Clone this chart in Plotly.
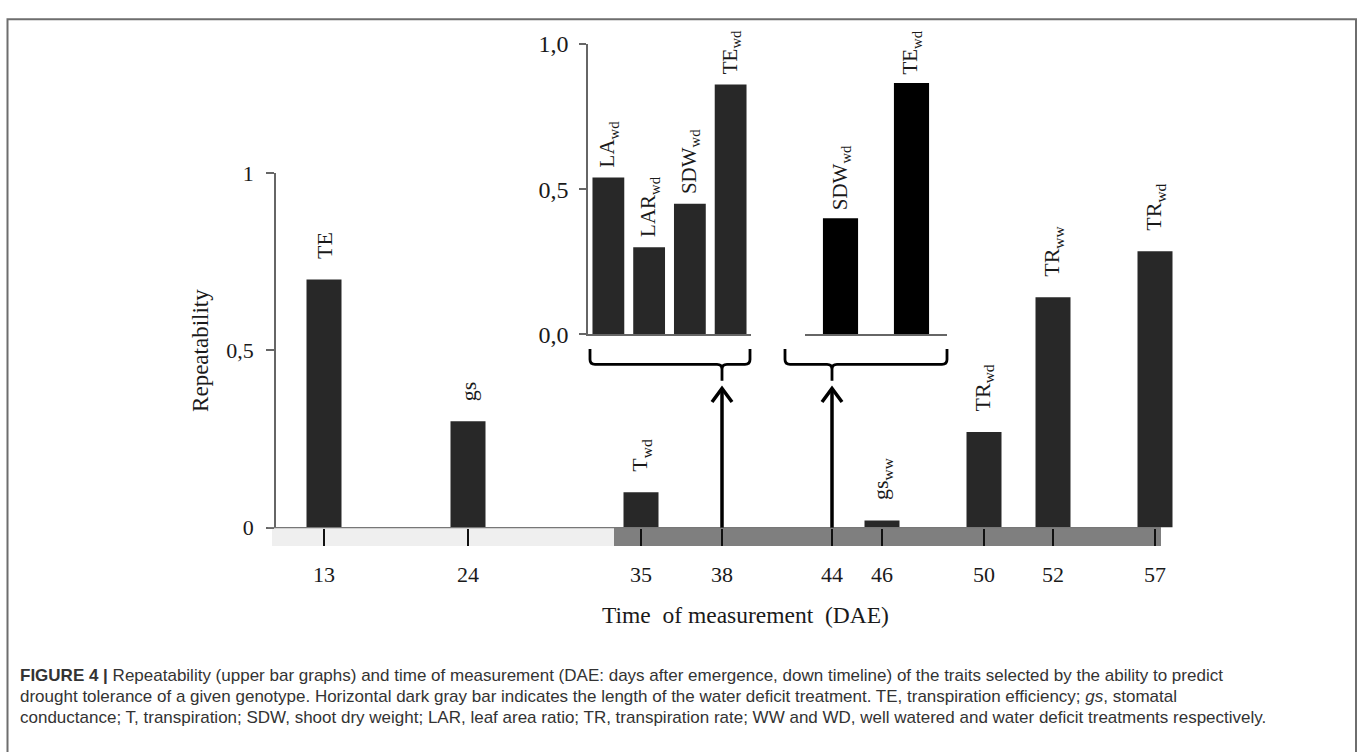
import plotly.graph_objects as go

W, H = 1360, 752

# ---------------- data ----------------
tick_dae = [13, 24, 35, 38, 44, 46, 50, 52, 57]
main_dae = [13, 24, 35, 46, 50, 52, 57]
main_vals = [0.70, 0.30, 0.10, 0.02, 0.27, 0.65, 0.78]
main_labels = ["TE", "gs", "T<sub>wd</sub>", "gs<sub>ww</sub>",
               "TR<sub>wd</sub>", "TR<sub>ww</sub>", "TR<sub>wd</sub>"]

inset1_dae = 38
inset1_traits = ["LA<sub>wd</sub>", "LAR<sub>wd</sub>", "SDW<sub>wd</sub>", "TE<sub>wd</sub>"]
inset1_vals = [0.54, 0.30, 0.45, 0.86]

inset2_dae = 44
inset2_traits = ["SDW<sub>wd</sub>", "TE<sub>wd</sub>"]
inset2_vals = [0.40, 0.865]

main_yticks = [0, 0.5, 1]
main_yticktext = ["0", "0,5", "1"]
inset_yticks = [0, 0.5, 1]
inset_yticktext = ["0,0", "0,5", "1,0"]

# ---------------- layout helpers ----------------
# schematic (non-linear) timeline position of each DAE tick
timeline_slot = [324, 468, 641, 722, 832, 882, 984, 1053, 1155]
slot = dict(zip(tick_dae, timeline_slot))


def px(x):
    return x / W


def py(y):
    return 1 - y / H


SERIF = "Liberation Serif"
SANS = "Liberation Sans"
BAR = "#282828"
AX = "#666666"
TXT = "#1a1a1a"

MAIN_X0, MAIN_X1 = 276, 1185
MAIN_YB, MAIN_YT = 533, 166
INS_YB, INS_YT = 333, 32
INS1_X0, INS1_X1 = 588, 751
INS2_X0, INS2_X1 = 805, 947

fig = go.Figure()

fig.add_trace(go.Bar(x=[slot[d] for d in main_dae], y=main_vals, width=35,
                     marker=dict(color=BAR, line=dict(width=0)),
                     xaxis="x", yaxis="y", hoverinfo="skip"))
fig.add_trace(go.Bar(x=list(range(len(inset1_vals))), y=inset1_vals, width=0.78,
                     marker=dict(color=BAR, line=dict(width=0)),
                     xaxis="x2", yaxis="y2", hoverinfo="skip"))
fig.add_trace(go.Bar(x=list(range(len(inset2_vals))), y=inset2_vals, width=0.495,
                     marker=dict(color="#000000", line=dict(width=0)),
                     xaxis="x3", yaxis="y3", hoverinfo="skip"))

annotations = []
for d, v, t in zip(main_dae, main_vals, main_labels):
    annotations.append(dict(x=slot[d], y=v, xref="x", yref="y", text=t, textangle=-90,
                            showarrow=False, xanchor="center", yanchor="bottom", yshift=18,
                            font=dict(family=SERIF, size=22, color=TXT)))
for i, (v, t) in enumerate(zip(inset1_vals, inset1_traits)):
    annotations.append(dict(x=i, y=v, xref="x2", yref="y2", text=t, textangle=-90,
                            showarrow=False, xanchor="center", yanchor="bottom", yshift=8,
                            font=dict(family=SERIF, size=21, color=TXT)))
for i, (v, t) in enumerate(zip(inset2_vals, inset2_traits)):
    annotations.append(dict(x=i, y=v, xref="x3", yref="y3", text=t, textangle=-90,
                            showarrow=False, xanchor="center", yanchor="bottom", yshift=6,
                            font=dict(family=SERIF, size=21, color=TXT)))

# axis titles
annotations.append(dict(x=px(745), y=py(624), xref="paper", yref="paper",
                        text="Time&nbsp;&nbsp;of measurement&nbsp;&nbsp;(DAE)", showarrow=False,
                        xanchor="center", yanchor="middle",
                        font=dict(family=SERIF, size=23.5, color=TXT)))
annotations.append(dict(x=px(201), y=py(350), xref="paper", yref="paper",
                        text="Repeatability", textangle=-90, showarrow=False,
                        xanchor="center", yanchor="middle",
                        font=dict(family=SERIF, size=23, color=TXT)))

# caption
caption = [
    "<b>FIGURE 4 |</b> Repeatability (upper bar graphs) and time of measurement (DAE: days after emergence, down timeline) of the traits selected by the ability to predict",
    "drought tolerance of a given genotype. Horizontal dark gray bar indicates the length of the water deficit treatment. TE, transpiration efficiency; <i>gs</i>, stomatal",
    "conductance; T, transpiration; SDW, shoot dry weight; LAR, leaf area ratio; TR, transpiration rate; WW and WD, well watered and water deficit treatments respectively.",
]
for k, line in enumerate(caption):
    annotations.append(dict(x=px(18), y=py(686 + 22 * k), xref="paper", yref="paper",
                            text=line, showarrow=False, xanchor="left", yanchor="middle",
                            font=dict(family=SANS, size=17, color="#333333")))

shapes = []
# frame (bottom edge lies below the visible page)
shapes.append(dict(type="rect", xref="paper", yref="paper", x0=px(7.5), x1=px(1356),
                   y0=-0.2, y1=py(6.5), line=dict(color="#6e6e6e", width=2),
                   fillcolor="rgba(0,0,0,0)", layer="below"))
# timeline bars (well watered period light, water deficit dark)
shapes.append(dict(type="rect", xref="paper", yref="paper", x0=px(272), x1=px(614),
                   y0=py(552), y1=py(533), fillcolor="#efefef", line=dict(width=0), layer="below"))
shapes.append(dict(type="rect", xref="paper", yref="paper", x0=px(614), x1=px(1161),
                   y0=py(552), y1=py(533), fillcolor="#7f7f7f", line=dict(width=0), layer="below"))
shapes.append(dict(type="line", xref="paper", yref="paper", x0=px(268), x1=px(1161),
                   y0=py(533), y1=py(533), line=dict(color="#777777", width=1.3)))


def brace(xl, xr, xc, top=348, mid=364, bot=381, r=5):
    p = (f"M{px(xl)},{py(top)} L{px(xl)},{py(mid - r)} Q{px(xl)},{py(mid)} {px(xl + r)},{py(mid)} "
         f"L{px(xc - r)},{py(mid)} Q{px(xc)},{py(mid)} {px(xc)},{py(mid + r)} L{px(xc)},{py(bot)} "
         f"M{px(xc)},{py(mid + r)} Q{px(xc)},{py(mid)} {px(xc + r)},{py(mid)} "
         f"L{px(xr - r)},{py(mid)} Q{px(xr)},{py(mid)} {px(xr)},{py(mid - r)} L{px(xr)},{py(top)}")
    return dict(type="path", xref="paper", yref="paper", path=p,
                line=dict(color="#000000", width=2.8))


def arrow(xc, base=533, tip=389, hw=10, hh=14):
    return [dict(type="line", xref="paper", yref="paper", x0=px(xc), x1=px(xc),
                 y0=py(base), y1=py(tip + 1), line=dict(color="#000000", width=3.5)),
            dict(type="path", xref="paper", yref="paper",
                 path=f"M{px(xc - hw)},{py(tip + hh)} L{px(xc)},{py(tip)} L{px(xc + hw)},{py(tip + hh)}",
                 line=dict(color="#000000", width=3.5))]


shapes.append(brace(INS1_X0 + 2, INS1_X1 - 1, slot[inset1_dae]))
shapes.append(brace(INS2_X0 - 20, INS2_X1, slot[inset2_dae]))
shapes += arrow(slot[inset1_dae])
shapes += arrow(slot[inset2_dae])

fig.update_layout(
    width=W, height=H, margin=dict(l=0, r=0, t=0, b=0),
    paper_bgcolor="white", plot_bgcolor="rgba(0,0,0,0)",
    showlegend=False, barmode="overlay",
    annotations=annotations, shapes=shapes,
    xaxis=dict(domain=[px(MAIN_X0), px(MAIN_X1)], range=[MAIN_X0, MAIN_X1], anchor="y",
               showgrid=False, zeroline=False, showline=False,
               tickvals=timeline_slot, ticktext=[str(d) for d in tick_dae],
               ticks="outside", ticklen=17, tickwidth=1.5, tickcolor="#111111",
               ticklabelstandoff=10,
               tickfont=dict(family=SERIF, size=22, color=TXT)),
    yaxis=dict(domain=[py(MAIN_YB), py(MAIN_YT)], range=[0, 1], anchor="x",
               showgrid=False, zeroline=False, showline=True, linecolor=AX, linewidth=1.5,
               tickvals=main_yticks, ticktext=main_yticktext,
               ticks="outside", ticklen=8, tickwidth=1.5, tickcolor=AX,
               ticklabelstandoff=8,
               tickfont=dict(family=SERIF, size=22, color=TXT)),
    xaxis2=dict(domain=[px(INS1_X0), px(INS1_X1)], range=[-0.5, len(inset1_vals) - 0.5], anchor="y2",
                showgrid=False, zeroline=False, showline=True, linecolor=AX, linewidth=1.5,
                showticklabels=False, ticks=""),
    yaxis2=dict(domain=[py(INS_YB), py(INS_YT)], range=[0, 1], anchor="x2",
                showgrid=False, zeroline=False, showline=True, linecolor=AX, linewidth=1.5,
                tickvals=inset_yticks, ticktext=inset_yticktext,
                ticks="outside", ticklen=7, tickwidth=1.5, tickcolor=AX,
                ticklabelstandoff=6,
                tickfont=dict(family=SERIF, size=24, color=TXT)),
    xaxis3=dict(domain=[px(INS2_X0), px(INS2_X1)], range=[-0.5, len(inset2_vals) - 0.5], anchor="y3",
                showgrid=False, zeroline=False, showline=True, linecolor=AX, linewidth=1.5,
                showticklabels=False, ticks=""),
    yaxis3=dict(domain=[py(INS_YB), py(INS_YT)], range=[0, 1], anchor="x3", visible=False),
)

fig.write_html("out.html")
